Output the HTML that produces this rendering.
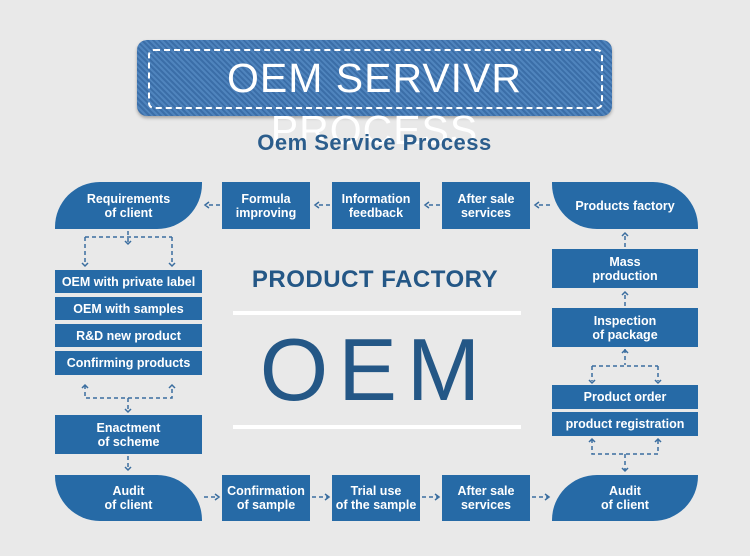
<!DOCTYPE html>
<html><head><meta charset="utf-8"><style>
body{margin:0;width:750px;height:556px;background:#e9e9e9;position:relative;overflow:hidden;font-family:"Liberation Sans",sans-serif}
.b{position:absolute;background:#266aa6;color:#fff;font-weight:bold;font-size:12.5px;line-height:14px;display:flex;align-items:center;justify-content:center;text-align:center}
.t{position:absolute}
</style></head><body>
<div style="position:absolute;left:137px;top:40px;width:475px;height:76px;border-radius:10px;background:repeating-linear-gradient(45deg,#3b6ea8 0 2px,#4f84bd 2px 4px),#3f72aa;box-shadow:0 2px 3px rgba(0,0,0,.3)"></div>
<div style="position:absolute;left:148px;top:49px;width:451px;height:56px;border:2px dashed #fff;border-radius:6px"></div>
<div class="t" style="left:137px;top:52px;width:475px;text-align:center;color:#fff;font-size:41px;line-height:52px;letter-spacing:1px">OEM SERVIVR PROCESS</div>
<div class="t" style="left:137px;top:130px;width:475px;text-align:center;color:#2b5d8c;font-size:22px;font-weight:bold;letter-spacing:.5px">Oem Service Process</div>

<div class="b" style="left:55px;top:182px;width:147px;height:47px;border-radius:45px 0 45px 0">Requirements<br>of client</div>
<div class="b" style="left:222px;top:182px;width:88px;height:47px">Formula<br>improving</div>
<div class="b" style="left:332px;top:182px;width:88px;height:47px">Information<br>feedback</div>
<div class="b" style="left:442px;top:182px;width:88px;height:47px">After sale<br>services</div>
<div class="b" style="left:552px;top:182px;width:146px;height:47px;border-radius:0 45px 0 45px">Products factory</div>

<div class="b" style="left:55px;top:270px;width:147px;height:23px">OEM with private label</div>
<div class="b" style="left:55px;top:297px;width:147px;height:23px">OEM with samples</div>
<div class="b" style="left:55px;top:324px;width:147px;height:23px">R&amp;D new product</div>
<div class="b" style="left:55px;top:351px;width:147px;height:24px">Confirming products</div>
<div class="b" style="left:55px;top:415px;width:147px;height:39px">Enactment<br>of scheme</div>
<div class="b" style="left:55px;top:475px;width:147px;height:46px;border-radius:0 45px 0 45px">Audit<br>of client</div>
<div class="b" style="left:222px;top:475px;width:88px;height:46px">Confirmation<br>of sample</div>
<div class="b" style="left:332px;top:475px;width:88px;height:46px">Trial use<br>of the sample</div>
<div class="b" style="left:442px;top:475px;width:88px;height:46px">After sale<br>services</div>
<div class="b" style="left:552px;top:475px;width:146px;height:46px;border-radius:45px 0 45px 0">Audit<br>of client</div>

<div class="b" style="left:552px;top:249px;width:146px;height:39px">Mass<br>production</div>
<div class="b" style="left:552px;top:308px;width:146px;height:39px">Inspection<br>of package</div>
<div class="b" style="left:552px;top:385px;width:146px;height:24px">Product order</div>
<div class="b" style="left:552px;top:412px;width:146px;height:24px">product registration</div>

<div class="t" style="left:200px;top:266px;width:350px;text-align:center;color:#245786;font-size:24px;font-weight:bold;letter-spacing:.5px">PRODUCT FACTORY</div>
<div style="position:absolute;left:233px;top:311px;width:288px;height:4px;background:#fff"></div>
<div class="t" style="left:200px;top:322px;width:350px;text-align:center;color:#245786;font-size:88px;line-height:96px;letter-spacing:10px">OEM</div>
<div style="position:absolute;left:233px;top:425px;width:288px;height:4px;background:#fff"></div>

<svg width="750" height="556" style="position:absolute;left:0;top:0" fill="none" stroke="#3a6d9f" stroke-width="1.5">
<g stroke-dasharray="4 3">
<path d="M220 205H206M330 205H316M440 205H426M550 205H536"/>
<path d="M128 231V243M85 237H172M85 237V264M172 237V264"/>
<path d="M85 385V398H172V385M128 398V411M128 456V470"/>
<path d="M204 497H218M312 497H328M422 497H438M532 497H548"/>
<path d="M625 247V233M625 306V292M625 349V365M592 366H658M592 366V381M658 366V381"/>
<path d="M592 439V454H658V439M625 454V470"/>
</g>
<g stroke-width="1.5">
<path d="M209 202l-4 3 4 3M319 202l-4 3 4 3M429 202l-4 3 4 3M539 202l-4 3 4 3"/>
<path d="M125 241l3 3 3-3M82 263l3 3 3-3M169 263l3 3 3-3M125 409l3 3 3-3M125 467l3 3 3-3"/>
<path d="M82 388l3-3 3 3M169 388l3-3 3 3"/>
<path d="M215 494l4 3-4 3M325 494l4 3-4 3M435 494l4 3-4 3M545 494l4 3-4 3"/>
<path d="M622 236l3-3 3 3M622 295l3-3 3 3M622 353l3-3 3 3M589 380l3 3 3-3M655 380l3 3 3-3"/>
<path d="M589 442l3-3 3 3M655 442l3-3 3 3M622 468l3 3 3-3"/>
</g>
</svg>
</body></html>
